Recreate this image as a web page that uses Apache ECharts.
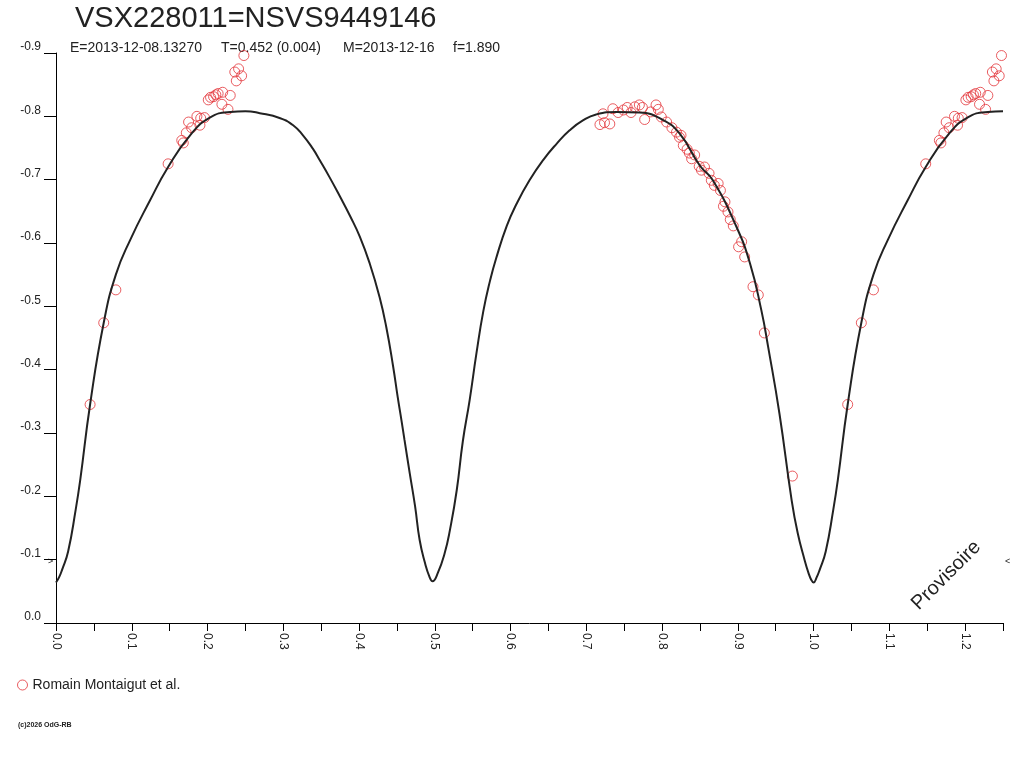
<!DOCTYPE html>
<html style="height: 100%">
<head>
	<meta charset="utf-8">
	<title>VSX228011=NSVS9449146</title>
	<script src="https://cdn.jsdelivr.net/npm/echarts@6/dist/echarts.min.js"></script>
</head>
<body style="height: 100%; margin: 0; background: #fff">
	<div id="main" style="width: 1024px; height: 768px"></div>
	<script type="text/javascript">

		// model light curve (phase 0..1), repeated to 1.25 below
		var modelPhase = [0.000, 0.004, 0.008, 0.016, 0.026, 0.032, 0.045, 0.063, 0.079, 0.098, 0.124,
			0.148, 0.177, 0.203, 0.230, 0.250, 0.269, 0.296, 0.313, 0.326, 0.339,
			0.348, 0.361, 0.375, 0.388, 0.401, 0.414, 0.427, 0.436, 0.445, 0.451, 0.456,
			0.460, 0.467, 0.474, 0.480, 0.487, 0.493, 0.497, 0.504, 0.513, 0.520, 0.529, 0.537, 0.546,
			0.555, 0.564, 0.573, 0.581, 0.595, 0.608, 0.625, 0.643, 0.661, 0.678,
			0.696, 0.713, 0.740, 0.770, 0.800, 0.823, 0.850, 0.867, 0.898, 0.916,
			0.931, 0.940, 0.955, 0.971, 0.979, 0.988, 0.993, 0.997];
		var modelMag = [-0.064, -0.072, -0.084, -0.113, -0.179, -0.226, -0.345, -0.474, -0.550, -0.605, -0.667,
			-0.720, -0.770, -0.798, -0.807, -0.808, -0.805, -0.797, -0.786, -0.770, -0.749,
			-0.731, -0.704, -0.673, -0.643, -0.610, -0.568, -0.515, -0.467, -0.405, -0.357, -0.320,
			-0.289, -0.236, -0.184, -0.131, -0.095, -0.073, -0.066, -0.079, -0.110, -0.147, -0.210, -0.287, -0.352,
			-0.426, -0.492, -0.541, -0.576, -0.627, -0.662, -0.699, -0.731, -0.757, -0.778,
			-0.794, -0.803, -0.807, -0.806, -0.795, -0.773, -0.722, -0.699, -0.626, -0.568,
			-0.494, -0.436, -0.330, -0.194, -0.142, -0.100, -0.080, -0.068];

		// observations (Romain Montaigut et al.)
		var obsPhase = [0.045, 0.063, 0.079, 0.148, 0.166, 0.168, 0.172, 0.175, 0.179, 0.186,
			0.190, 0.191, 0.196, 0.201, 0.204, 0.208, 0.211, 0.214, 0.220, 0.219,
			0.227, 0.230, 0.236, 0.241, 0.245, 0.238, 0.248,
			0.718, 0.722, 0.724, 0.731, 0.735, 0.742, 0.749, 0.754, 0.759, 0.764,
			0.770, 0.774, 0.777, 0.785, 0.792, 0.795, 0.799, 0.806, 0.813, 0.819,
			0.823, 0.825, 0.828, 0.833, 0.836, 0.839, 0.843, 0.849, 0.852, 0.856,
			0.862, 0.865, 0.869, 0.874, 0.877, 0.883, 0.881, 0.887, 0.890, 0.894,
			0.901, 0.905, 0.909, 0.920, 0.927, 0.935, 0.972];
		var obsMag = [-0.345, -0.474, -0.526, -0.725, -0.762, -0.758, -0.774, -0.791, -0.782, -0.800,
			-0.786, -0.797, -0.798, -0.826, -0.830, -0.831, -0.834, -0.836, -0.838, -0.819,
			-0.811, -0.833, -0.870, -0.875, -0.864, -0.856, -0.896,
			-0.787, -0.804, -0.790, -0.788, -0.812, -0.806, -0.810, -0.814, -0.806, -0.815,
			-0.818, -0.814, -0.795, -0.807, -0.818, -0.811, -0.799, -0.791, -0.782, -0.775,
			-0.767, -0.770, -0.754, -0.748, -0.742, -0.733, -0.739, -0.721, -0.715, -0.720,
			-0.710, -0.699, -0.691, -0.694, -0.683, -0.665, -0.658, -0.649, -0.637, -0.627,
			-0.594, -0.602, -0.578, -0.531, -0.518, -0.458, -0.232];

		var title = 'VSX228011=NSVS9449146';
		var infoTexts = ['E=2013-12-08.13270', 'T=0.452 (0.004)', 'M=2013-12-16', 'f=1.890'];
		var observer = 'Romain Montaigut et al.';

		var maxPhase = 1.25;
		var txt = '#222';
		var red = '#e3343a';
		var font = '"Liberation Sans", Arial, sans-serif';

		// fold: repeat phases 0..0.25 at 1..1.25
		var model = [];
		for (var i = 0; i < modelPhase.length; i++) model.push([modelPhase[i], modelMag[i]]);
		for (var i = 0; i < modelPhase.length; i++) {
			if (modelPhase[i] + 1 <= maxPhase) model.push([modelPhase[i] + 1, modelMag[i]]);
		}
		model.sort(function(a, b){ return a[0] - b[0]; });

		var obs = [];
		for (var i = 0; i < obsPhase.length; i++) {
			obs.push([obsPhase[i], obsMag[i]]);
			if (obsPhase[i] + 1 <= maxPhase) obs.push([obsPhase[i] + 1, obsMag[i]]);
		}

		var infoX = [70, 221, 343, 453];
		var graphics = [
			{ type: 'text', x: 75, y: 4, style: { text: title, font: '29px ' + font, fill: txt } },
			{ type: 'text', x: 18, y: 722, style: { text: '(c)2026 OdG-RB', font: 'bold 7px ' + font, fill: txt } },
			{ type: 'text', x: 922, y: 614, rotation: Math.PI / 4,
				style: { text: 'Provisoire', font: '20px ' + font, fill: txt, textVerticalAlign: 'bottom' } },
			{ type: 'text', x: 48, y: 557, style: { text: '>', font: '9px ' + font, fill: txt } },
			{ type: 'text', x: 1005, y: 557, style: { text: '<', font: '9px ' + font, fill: txt } }
		];
		for (var i = 0; i < infoTexts.length; i++) {
			graphics.push({ type: 'text', x: infoX[i], y: 41,
				style: { text: infoTexts[i], font: '14px ' + font, fill: txt } });
		}

		var myChart = echarts.init(document.getElementById('main'));
		myChart.setOption({
			animation: false,
			backgroundColor: '#fff',
			grid: { left: 56, top: 53, width: 947, height: 570 },
			legend: {
				left: 12, top: 673, itemWidth: 10, itemHeight: 10, itemGap: 4,
				textStyle: { color: txt, fontSize: 14, fontFamily: font },
				data: [{ name: observer, icon: 'circle', itemStyle: { color: 'transparent', borderColor: red, borderWidth: 1 } }]
			},
			xAxis: {
				type: 'value', min: 0, max: maxPhase, interval: 0.05,
				axisLine: { onZero: false, lineStyle: { color: '#000', width: 1 } },
				axisTick: { length: 8, lineStyle: { color: '#000' } },
				splitLine: { show: false },
				axisLabel: {
					rotate: -90, margin: 10, color: txt, fontSize: 12, fontFamily: font,
					formatter: function(v){
						var r = Math.round(v * 100);
						return r % 10 === 0 ? (r / 100).toFixed(1) : '';
					}
				}
			},
			yAxis: {
				type: 'value', inverse: true, min: -0.9, max: 0, interval: 0.1,
				axisLine: { show: true, lineStyle: { color: '#000', width: 1 } },
				axisTick: { show: true, length: 12, lineStyle: { color: '#000' } },
				splitLine: { show: false },
				axisLabel: {
					margin: 15, color: txt, fontSize: 12, verticalAlign: 'bottom', fontFamily: font,
					formatter: function(v){ return (Math.round(v * 10) / 10).toFixed(1).replace('-0.0', '0.0'); }
				}
			},
			series: [
				{
					name: 'model', type: 'line', data: model, smooth: 0.5,
					showSymbol: false, silent: true,
					lineStyle: { color: '#222', width: 2 }
				},
				{
					name: observer, type: 'scatter', data: obs,
					symbol: 'circle', symbolSize: 10,
					itemStyle: { color: 'transparent', borderColor: red, borderWidth: 1 }
				}
			],
			graphic: graphics
		});

	</script>
</body>
</html>
